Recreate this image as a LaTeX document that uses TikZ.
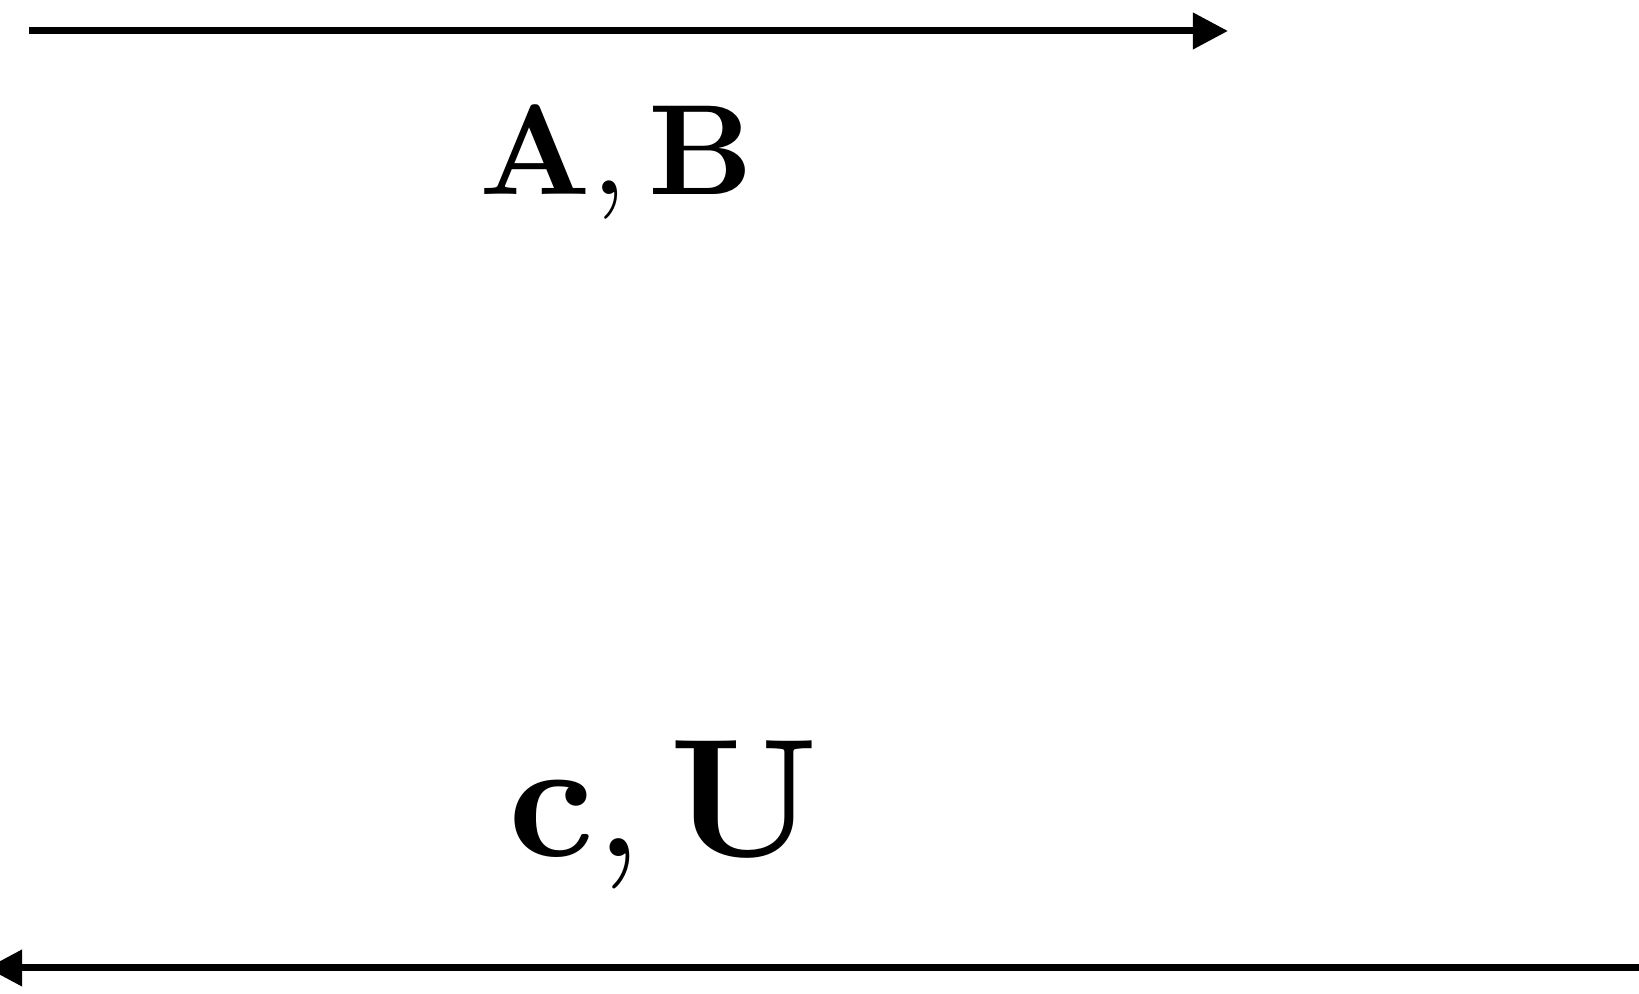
\documentclass[tikz,border=0pt]{standalone}
\usepackage{graphicx}
\usetikzlibrary{arrows.meta}
\begin{document}
\begin{tikzpicture}[
  flow/.style={line width=2pt,-{Triangle[length=10pt,width=10pt]}},
  toplabel/.style={anchor=base,inner sep=0pt},
  botlabel/.style={anchor=base,inner sep=0pt}]
  \useasboundingbox (0,0) rectangle (16.39,9.94);
  % forward pass
  \coordinate (fwdstart) at (0.29,9.63);
  \coordinate (fwdend) at (12.28,9.63);
  \draw[flow] (fwdstart) -- (fwdend);
  \node[toplabel] (params) at (6.17,7.99) {\scalebox{3.66}{$\mathbf{A},\mathbf{B}$}};
  % backward pass
  \coordinate (bwdstart) at (16.5,0.26);
  \coordinate (bwdend) at (-0.13,0.26);
  \draw[flow] (bwdstart) -- (bwdend);
  \node[botlabel] (inputs) at (6.64,1.37) {\scalebox{4.8}{$\mathbf{c},\mathbf{U}$}};
\end{tikzpicture}
\end{document}
